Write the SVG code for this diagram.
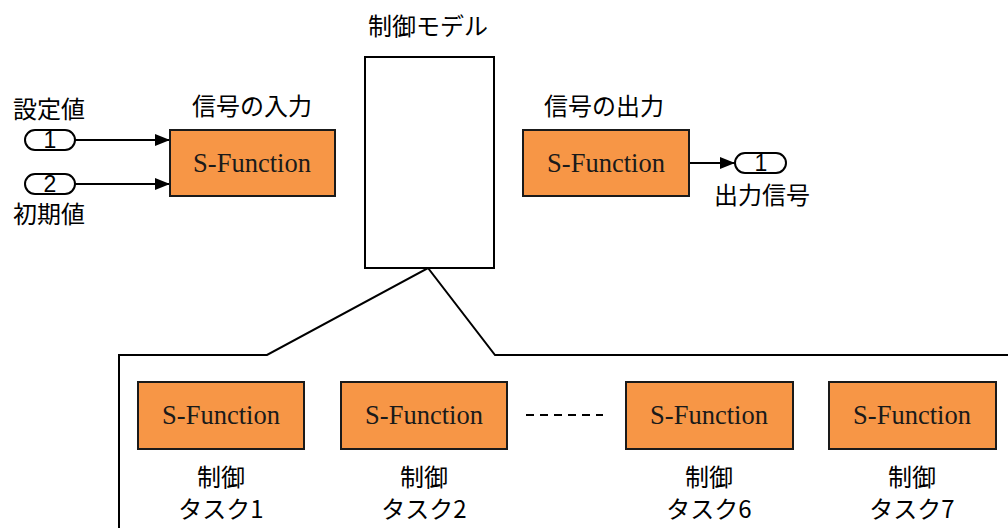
<svg xmlns="http://www.w3.org/2000/svg" width="1008" height="528" viewBox="0 0 1008 528">
<style>
.sf{fill:#F79646;stroke:#1a1a1a;stroke-width:2}
.sft{font-family:'Liberation Serif','Times New Roman',serif;font-size:26.5px;fill:#1a1a1a;text-anchor:middle}
.jp{font-family:'Noto Sans CJK JP',sans-serif;font-size:24px;fill:#000;text-anchor:middle}
.port{fill:#fff;stroke:#000;stroke-width:2}
.pt{font-family:'Liberation Sans',sans-serif;font-size:23px;fill:#000;text-anchor:middle}
.ln{fill:none;stroke:#000;stroke-width:2}
</style>
<defs>
<marker id="ah" markerWidth="15" markerHeight="12" refX="15" refY="6" orient="auto" markerUnits="userSpaceOnUse">
<path d="M0,0 L15,6 L0,12 Z" fill="#000"/>
</marker>
</defs>
<rect width="1008" height="528" fill="#fff"/>
<g id="connectors">
<line class="ln" x1="75" y1="140" x2="170" y2="140" marker-end="url(#ah)"/>
<line class="ln" x1="75" y1="184" x2="170" y2="184" marker-end="url(#ah)"/>
<line class="ln" x1="689" y1="163" x2="735" y2="163" marker-end="url(#ah)"/>
<polyline class="ln" points="119,528 119,355 267,355 428,268 495,355 1008,355"/>
<line x1="526" y1="415" x2="603" y2="415" stroke="#000" stroke-width="2" stroke-dasharray="8,6"/>
</g>
<g id="in1">
<rect class="port" x="25" y="130" width="50" height="20" rx="10"/>
<text class="pt" x="50" y="148">1</text>
<text class="jp" x="49" y="118" font-size="25">設定値</text>
</g>
<g id="in2">
<rect class="port" x="25" y="174" width="50" height="20" rx="10"/>
<text class="pt" x="50" y="192">2</text>
<text class="jp" x="49" y="223" font-size="25">初期値</text>
</g>
<g id="sf-in">
<rect class="sf" x="170" y="130" width="165" height="66"/>
<text class="sft" x="252" y="172">S-Function</text>
<text class="jp" x="252" y="115" font-size="25">信号の入力</text>
</g>
<g id="model">
<rect x="365" y="57" width="129" height="211" fill="#fff" stroke="#000" stroke-width="2"/>
<text class="jp" x="428" y="35" font-size="26">制御モデル</text>
</g>
<g id="sf-out">
<rect class="sf" x="523" y="130" width="166" height="66"/>
<text class="sft" x="606" y="172">S-Function</text>
<text class="jp" x="604" y="115" font-size="25">信号の出力</text>
</g>
<g id="out1">
<rect class="port" x="735" y="153" width="51" height="20" rx="10"/>
<text class="pt" x="761" y="171">1</text>
<text class="jp" x="762" y="204" font-size="25">出力信号</text>
</g>
<g id="task1">
<rect class="sf" x="138" y="382" width="166" height="67"/>
<text class="sft" x="221" y="424">S-Function</text>
<text class="jp" x="221" y="486">制御</text>
<text class="jp" x="221" y="518">タスク1</text>
</g>
<g id="task2">
<rect class="sf" x="341" y="382" width="166" height="67"/>
<text class="sft" x="424" y="424">S-Function</text>
<text class="jp" x="424" y="486">制御</text>
<text class="jp" x="424" y="518">タスク2</text>
</g>
<g id="task6">
<rect class="sf" x="626" y="382" width="167" height="67"/>
<text class="sft" x="709" y="424">S-Function</text>
<text class="jp" x="709" y="486">制御</text>
<text class="jp" x="709" y="518">タスク6</text>
</g>
<g id="task7">
<rect class="sf" x="829" y="382" width="167" height="67"/>
<text class="sft" x="912" y="424">S-Function</text>
<text class="jp" x="912" y="486">制御</text>
<text class="jp" x="912" y="518">タスク7</text>
</g>
</svg>
